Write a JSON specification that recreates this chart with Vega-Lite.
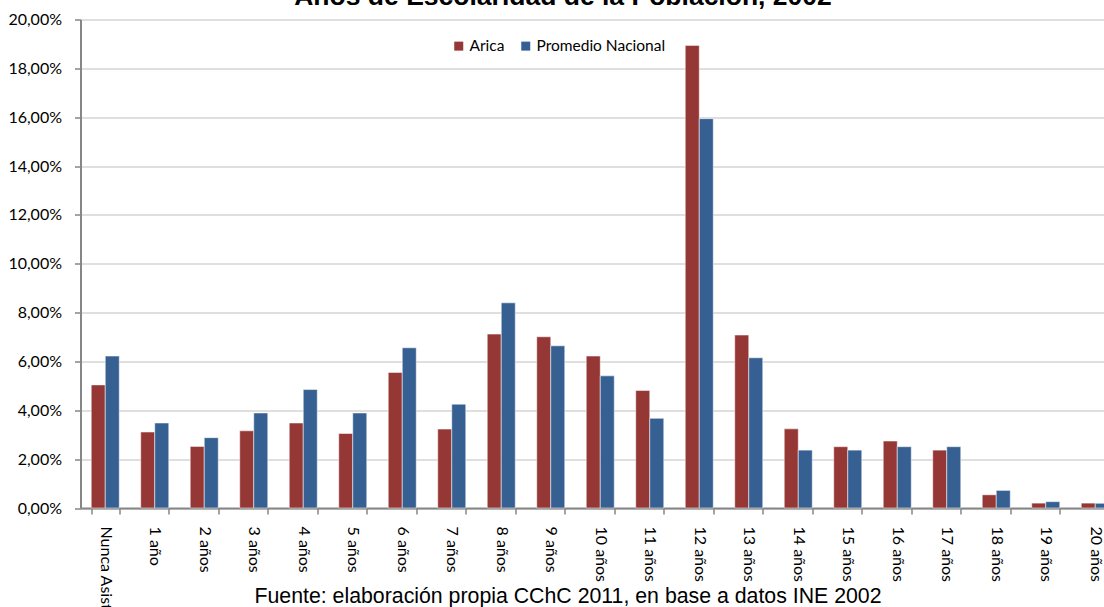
{
  "$schema": "https://vega.github.io/schema/vega-lite/v6.json",
  "width": 1023.5,
  "height": 488.5,
  "autosize": {"type": "none"},
  "padding": {"left": 80.5, "top": 19.5, "right": 0, "bottom": 99},
  "background": "white",
  "title": {
    "text": "Años de Escolaridad de la Población, 2002",
    "anchor": "start",
    "frame": "group",
    "align": "center",
    "dx": 482.5,
    "font": "Liberation Sans",
    "fontSize": 26.5,
    "fontWeight": "bold",
    "color": "#000000",
    "baseline": "alphabetic",
    "offset": 0,
    "dy": 20
  },
  "data": {
    "values": [
      {"cat": "Nunca Asistió", "serie": "Arica", "valor": 0.0504},
      {"cat": "Nunca Asistió", "serie": "Promedio Nacional", "valor": 0.0622},
      {"cat": "1 año", "serie": "Arica", "valor": 0.0311},
      {"cat": "1 año", "serie": "Promedio Nacional", "valor": 0.0348},
      {"cat": "2 años", "serie": "Arica", "valor": 0.0252},
      {"cat": "2 años", "serie": "Promedio Nacional", "valor": 0.0288},
      {"cat": "3 años", "serie": "Arica", "valor": 0.0316},
      {"cat": "3 años", "serie": "Promedio Nacional", "valor": 0.0389},
      {"cat": "4 años", "serie": "Arica", "valor": 0.0348},
      {"cat": "4 años", "serie": "Promedio Nacional", "valor": 0.0485},
      {"cat": "5 años", "serie": "Arica", "valor": 0.0305},
      {"cat": "5 años", "serie": "Promedio Nacional", "valor": 0.0389},
      {"cat": "6 años", "serie": "Arica", "valor": 0.0555},
      {"cat": "6 años", "serie": "Promedio Nacional", "valor": 0.0656},
      {"cat": "7 años", "serie": "Arica", "valor": 0.0323},
      {"cat": "7 años", "serie": "Promedio Nacional", "valor": 0.0425},
      {"cat": "8 años", "serie": "Arica", "valor": 0.0712},
      {"cat": "8 años", "serie": "Promedio Nacional", "valor": 0.0840},
      {"cat": "9 años", "serie": "Arica", "valor": 0.0701},
      {"cat": "9 años", "serie": "Promedio Nacional", "valor": 0.0664},
      {"cat": "10 años", "serie": "Arica", "valor": 0.0622},
      {"cat": "10 años", "serie": "Promedio Nacional", "valor": 0.0541},
      {"cat": "11 años", "serie": "Arica", "valor": 0.0481},
      {"cat": "11 años", "serie": "Promedio Nacional", "valor": 0.0367},
      {"cat": "12 años", "serie": "Arica", "valor": 0.1894},
      {"cat": "12 años", "serie": "Promedio Nacional", "valor": 0.1594},
      {"cat": "13 años", "serie": "Arica", "valor": 0.0708},
      {"cat": "13 años", "serie": "Promedio Nacional", "valor": 0.0615},
      {"cat": "14 años", "serie": "Arica", "valor": 0.0324},
      {"cat": "14 años", "serie": "Promedio Nacional", "valor": 0.0237},
      {"cat": "15 años", "serie": "Arica", "valor": 0.0251},
      {"cat": "15 años", "serie": "Promedio Nacional", "valor": 0.0237},
      {"cat": "16 años", "serie": "Arica", "valor": 0.0274},
      {"cat": "16 años", "serie": "Promedio Nacional", "valor": 0.0251},
      {"cat": "17 años", "serie": "Arica", "valor": 0.0237},
      {"cat": "17 años", "serie": "Promedio Nacional", "valor": 0.0251},
      {"cat": "18 años", "serie": "Arica", "valor": 0.0054},
      {"cat": "18 años", "serie": "Promedio Nacional", "valor": 0.0072},
      {"cat": "19 años", "serie": "Arica", "valor": 0.0020},
      {"cat": "19 años", "serie": "Promedio Nacional", "valor": 0.0026},
      {"cat": "20 años", "serie": "Arica", "valor": 0.0020},
      {"cat": "20 años", "serie": "Promedio Nacional", "valor": 0.0019}
    ]
  },
  "mark": {"type": "bar", "stroke": "#ffffff", "strokeWidth": 1, "strokeOpacity": 0.5},
  "encoding": {
    "x": {
      "field": "cat",
      "type": "nominal",
      "sort": ["Nunca Asistió", "1 año", "2 años", "3 años", "4 años", "5 años", "6 años", "7 años", "8 años", "9 años", "10 años", "11 años", "12 años", "13 años", "14 años", "15 años", "16 años", "17 años", "18 años", "19 años", "20 años"],
      "scale": {"range": [0, 1039.5], "paddingInner": 0.434, "paddingOuter": 0.217},
      "axis": {
        "title": "Fuente: elaboración propia CChC 2011, en base a datos INE 2002",
        "titleX": 487,
        "titleY": 94.7,
        "titleAlign": "center",
        "titleBaseline": "alphabetic",
        "titleFont": "Liberation Sans",
        "titleFontSize": 21.3,
        "titleFontWeight": "normal",
        "titleColor": "#000000",
        "labelAngle": 90,
        "labelFont": "Lato",
        "labelFontSize": 16,
        "labelColor": "#000000",
        "labelPadding": 12,
        "labelOverlap": false,
        "tickBand": "extent",
        "tickSize": 6,
        "tickColor": "#868686",
        "tickWidth": 1.5,
        "domainColor": "#868686",
        "domainWidth": 2,
        "grid": false
      }
    },
    "xOffset": {
      "field": "serie",
      "type": "nominal",
      "sort": ["Arica", "Promedio Nacional"],
      "scale": {"paddingInner": 0, "paddingOuter": 0}
    },
    "y": {
      "field": "valor",
      "type": "quantitative",
      "scale": {"domain": [0, 0.2]},
      "axis": {
        "title": null,
        "format": ".2%",
        "values": [0, 0.02, 0.04, 0.06, 0.08, 0.1, 0.12, 0.14, 0.16, 0.18, 0.2],
        "grid": true,
        "gridColor": "#c0c0c0",
        "gridWidth": 1.2,
        "labelFont": "Lato",
        "labelFontSize": 16,
        "labelColor": "#000000",
        "labelPadding": 13,
        "tickSize": 6,
        "tickColor": "#868686",
        "tickWidth": 1.5,
        "domainColor": "#868686",
        "domainWidth": 2
      }
    },
    "color": {
      "field": "serie",
      "type": "nominal",
      "scale": {"domain": ["Arica", "Promedio Nacional"], "range": ["#953735", "#376092"]},
      "legend": {
        "orient": "none",
        "legendX": 370.5,
        "legendY": 18.5,
        "direction": "horizontal",
        "title": null,
        "symbolType": "square",
        "symbolSize": 81,
        "symbolStrokeWidth": 0,
        "symbolOpacity": 1,
        "labelFont": "Lato",
        "labelFontSize": 15.5,
        "labelColor": "#000000",
        "labelOffset": 3,
        "columnPadding": 13,
        "padding": 0
      }
    }
  },
  "config": {
    "locale": {"number": {"decimal": ",", "thousands": ".", "grouping": [3], "currency": ["", " €"]}},
    "view": {"stroke": null}
  }
}
